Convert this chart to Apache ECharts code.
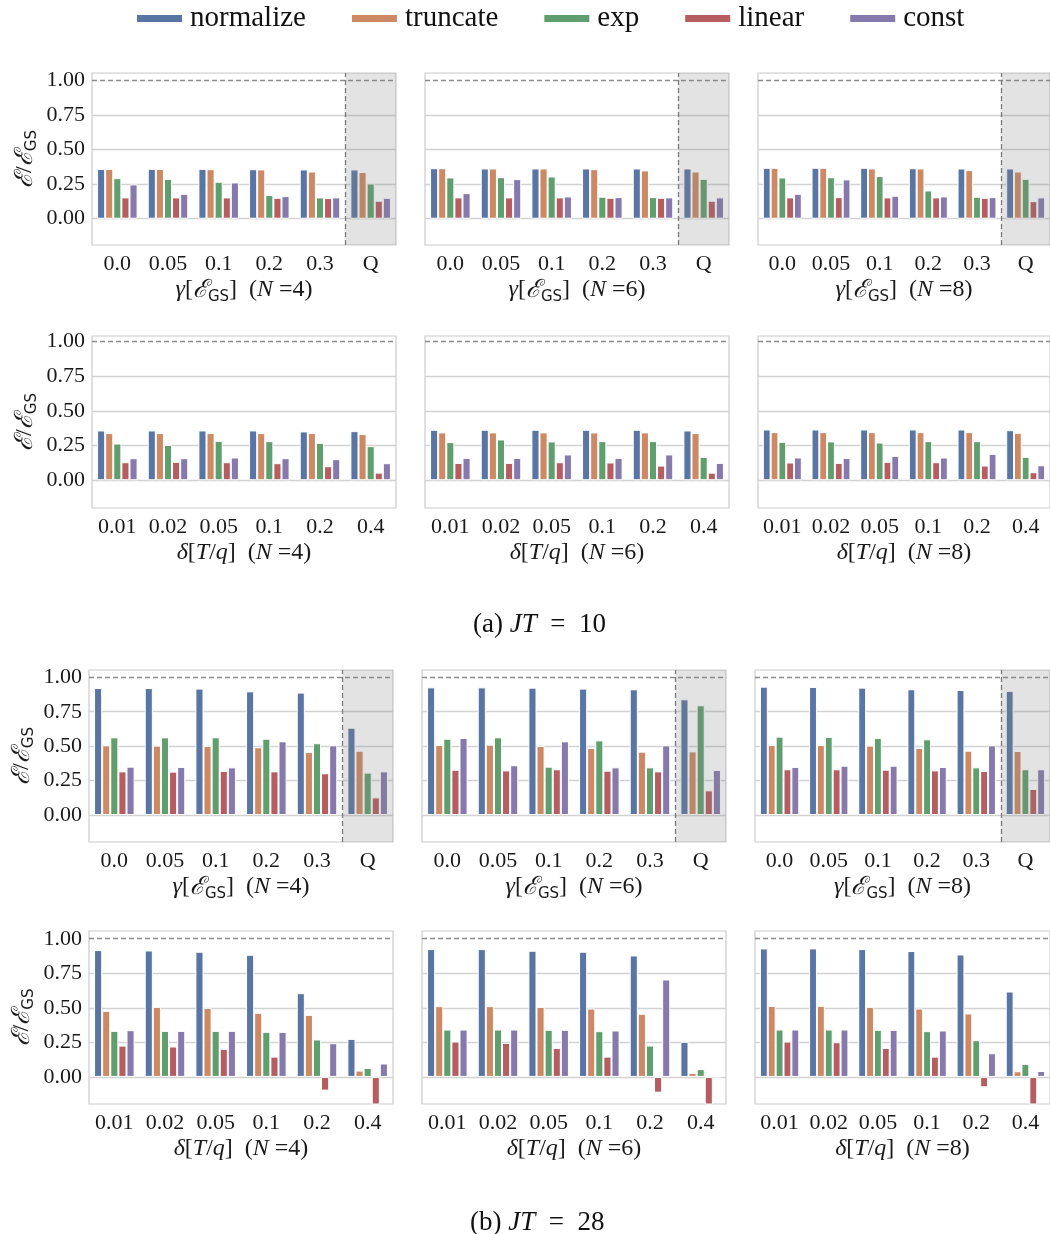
<!DOCTYPE html>
<html>
<head>
<meta charset="utf-8">
<script src="https://cdn.jsdelivr.net/npm/echarts@6/dist/echarts.min.js"></script>
<style>
html, body { margin: 0; padding: 0; background: #fff; }
#main { width: 1050px; height: 1234px; }
</style>
</head>
<body>
<div id="main"></div>
<script>
var methods = ['normalize', 'truncate', 'exp', 'linear', 'const'];
var gammaLabels = ['0.0', '0.05', '0.1', '0.2', '0.3', 'Q'];
var deltaLabels = ['0.01', '0.02', '0.05', '0.1', '0.2', '0.4'];
var yTicks = [0, 0.25, 0.5, 0.75, 1];

// rows: normalize, truncate, exp, linear, const
var jt10_gamma_N4 = [
	[0.36, 0.36, 0.36, 0.358, 0.356, 0.356],
	[0.36, 0.36, 0.358, 0.356, 0.341, 0.337],
	[0.293, 0.288, 0.267, 0.171, 0.154, 0.255],
	[0.154, 0.154, 0.154, 0.151, 0.149, 0.13],
	[0.248, 0.18, 0.262, 0.163, 0.154, 0.151]
];
var jt10_gamma_N6 = [
	[0.365, 0.363, 0.363, 0.363, 0.363, 0.363],
	[0.365, 0.363, 0.363, 0.358, 0.349, 0.341],
	[0.298, 0.30, 0.305, 0.159, 0.156, 0.288],
	[0.154, 0.154, 0.154, 0.151, 0.151, 0.13],
	[0.185, 0.286, 0.161, 0.156, 0.154, 0.154]
];
var jt10_gamma_N8 = [
	[0.368, 0.368, 0.368, 0.365, 0.363, 0.363],
	[0.368, 0.368, 0.363, 0.363, 0.351, 0.341],
	[0.298, 0.30, 0.308, 0.204, 0.159, 0.288],
	[0.154, 0.156, 0.154, 0.154, 0.151, 0.127],
	[0.18, 0.284, 0.166, 0.161, 0.156, 0.154]
];
var jt10_delta_N4 = [
	[0.359, 0.359, 0.359, 0.359, 0.352, 0.354],
	[0.34, 0.34, 0.34, 0.34, 0.34, 0.333],
	[0.265, 0.255, 0.284, 0.282, 0.27, 0.246],
	[0.13, 0.133, 0.13, 0.123, 0.101, 0.055],
	[0.159, 0.159, 0.164, 0.159, 0.152, 0.123]
];
var jt10_delta_N6 = [
	[0.364, 0.364, 0.364, 0.364, 0.364, 0.359],
	[0.345, 0.345, 0.345, 0.345, 0.345, 0.34],
	[0.275, 0.294, 0.28, 0.282, 0.282, 0.169],
	[0.125, 0.125, 0.13, 0.128, 0.106, 0.055],
	[0.161, 0.161, 0.186, 0.161, 0.186, 0.125]
];
var jt10_delta_N8 = [
	[0.366, 0.366, 0.366, 0.366, 0.366, 0.361],
	[0.347, 0.347, 0.347, 0.347, 0.347, 0.342],
	[0.277, 0.28, 0.272, 0.282, 0.282, 0.169],
	[0.128, 0.125, 0.133, 0.13, 0.106, 0.058],
	[0.164, 0.161, 0.176, 0.164, 0.19, 0.108]
];
var jt28_gamma_N4 = [
	[0.922, 0.922, 0.918, 0.898, 0.889, 0.634],
	[0.506, 0.504, 0.501, 0.492, 0.458, 0.467],
	[0.564, 0.564, 0.564, 0.554, 0.521, 0.308],
	[0.317, 0.315, 0.32, 0.317, 0.303, 0.128],
	[0.351, 0.349, 0.346, 0.535, 0.506, 0.317]
];
var jt28_gamma_N6 = [
	[0.927, 0.927, 0.925, 0.918, 0.913, 0.84],
	[0.508, 0.511, 0.501, 0.487, 0.46, 0.462],
	[0.554, 0.564, 0.351, 0.542, 0.346, 0.797],
	[0.329, 0.324, 0.332, 0.322, 0.317, 0.179],
	[0.559, 0.361, 0.535, 0.346, 0.506, 0.327]
];
var jt28_gamma_N8 = [
	[0.932, 0.93, 0.925, 0.913, 0.908, 0.901],
	[0.508, 0.508, 0.504, 0.487, 0.467, 0.465],
	[0.569, 0.567, 0.559, 0.55, 0.346, 0.332],
	[0.332, 0.332, 0.329, 0.324, 0.32, 0.189],
	[0.349, 0.358, 0.358, 0.349, 0.506, 0.332]
];
var jt28_delta_N4 = [
	[0.918, 0.915, 0.906, 0.884, 0.606, 0.275],
	[0.478, 0.507, 0.5, 0.464, 0.449, 0.046],
	[0.333, 0.333, 0.333, 0.326, 0.271, 0.065],
	[0.227, 0.22, 0.203, 0.147, -0.099, -0.3],
	[0.338, 0.333, 0.333, 0.326, 0.244, 0.097]
];
var jt28_delta_N6 = [
	[0.925, 0.925, 0.913, 0.906, 0.879, 0.254],
	[0.512, 0.512, 0.507, 0.495, 0.457, 0.029],
	[0.343, 0.343, 0.341, 0.331, 0.227, 0.056],
	[0.256, 0.246, 0.21, 0.147, -0.114, -0.3],
	[0.343, 0.343, 0.341, 0.336, 0.705, 0.002]
];
var jt28_delta_N8 = [
	[0.93, 0.93, 0.925, 0.911, 0.886, 0.618],
	[0.514, 0.514, 0.507, 0.495, 0.459, 0.041],
	[0.343, 0.343, 0.341, 0.331, 0.266, 0.094],
	[0.256, 0.251, 0.21, 0.147, -0.075, -0.3],
	[0.343, 0.343, 0.341, 0.336, 0.171, 0.043]
];

var barColors = ['#5975a4', '#cc8963', '#5f9e6e', '#b55d60', '#857aab'];
var serif = 'Liberation Serif, DejaVu Serif, serif';

var panels = [
	{ data: jt10_gamma_N4, kind: 'gamma', N: 4 },
	{ data: jt10_gamma_N6, kind: 'gamma', N: 6 },
	{ data: jt10_gamma_N8, kind: 'gamma', N: 8 },
	{ data: jt10_delta_N4, kind: 'delta', N: 4 },
	{ data: jt10_delta_N6, kind: 'delta', N: 6 },
	{ data: jt10_delta_N8, kind: 'delta', N: 8 },
	{ data: jt28_gamma_N4, kind: 'gamma', N: 4 },
	{ data: jt28_gamma_N6, kind: 'gamma', N: 6 },
	{ data: jt28_gamma_N8, kind: 'gamma', N: 8 },
	{ data: jt28_delta_N4, kind: 'delta', N: 4 },
	{ data: jt28_delta_N6, kind: 'delta', N: 6 },
	{ data: jt28_delta_N8, kind: 'delta', N: 8 }
];

// layout of each row of panels
var rows = [
	{ top: 73, height: 172, min: -0.19, max: 1.053, lefts: [92, 425, 758] },
	{ top: 336, height: 172, min: -0.2, max: 1.04, lefts: [92, 425, 758] },
	{ top: 670, height: 172, min: -0.196, max: 1.053, lefts: [89, 422, 755] },
	{ top: 931, height: 173, min: -0.196, max: 1.056, lefts: [89, 422, 755] }
];

var richName = {
	t: { fontFamily: serif, fontSize: 24, color: '#1a1a1a', lineHeight: 30 },
	i: { fontFamily: serif, fontSize: 24, fontStyle: 'italic', color: '#1a1a1a', lineHeight: 30 },
	e: { fontFamily: 'DejaVu Serif, serif', fontSize: 25, fontStyle: 'italic', color: '#1a1a1a', lineHeight: 30 },
	sub: { fontFamily: 'DejaVu Sans, sans-serif', fontSize: 15, color: '#1a1a1a', verticalAlign: 'bottom', lineHeight: 16 }
};

var richCaption = {
	t: { fontFamily: serif, fontSize: 27, fontWeight: 'normal', color: '#111' },
	i: { fontFamily: serif, fontSize: 27, fontWeight: 'normal', fontStyle: 'italic', color: '#111' }
};

function xName(p) {
	if (p.kind === 'gamma')
		return '{i|γ}{t|[}{e|ℰ}{sub|GS}{t|]  (}{i|N}{t| =' + p.N + ')}';
	return '{i|δ}{t|[}{i|T}{t|/}{i|q}{t|]  (}{i|N}{t| =' + p.N + ')}';
}

var option = {
	animation: false,
	backgroundColor: '#ffffff',
	color: barColors,
	legend: {
		left: 132,
		top: -1,
		icon: 'rect',
		itemWidth: 45,
		itemHeight: 7,
		itemGap: 46,
		itemStyle: { borderWidth: 0 },
		textStyle: { fontFamily: serif, fontSize: 29, color: '#111', padding: [0, 0, 0, 3] },
		data: methods
	},
	title: [{
		text: '{t|(a) }{i|JT}{t|  =  10}',
		left: 468,
		top: 606,
		textStyle: { fontWeight: 'normal', rich: richCaption }
	}, {
		text: '{t|(b) }{i|JT}{t|  =  28}',
		left: 465,
		top: 1204,
		textStyle: { fontWeight: 'normal', rich: richCaption }
	}],
	grid: [],
	xAxis: [],
	yAxis: [],
	series: []
};

panels.forEach(function (p, i) {
	var row = rows[Math.floor(i / 3)];
	var col = i % 3;
	option.grid.push({
		left: row.lefts[col], top: row.top, width: 304, height: row.height,
		show: true, borderColor: '#cccccc', borderWidth: 1.2, backgroundColor: 'transparent'
	});
	var catIdx = option.xAxis.length;
	option.xAxis.push({
		type: 'category',
		gridIndex: i,
		data: p.kind === 'gamma' ? gammaLabels : deltaLabels,
		axisLine: { show: false },
		axisTick: { show: false },
		splitLine: { show: false },
		axisLabel: { fontFamily: serif, fontSize: 22, color: '#1a1a1a', margin: 8, interval: 0 },
		name: xName(p),
		nameLocation: 'middle',
		nameGap: 30,
		nameTextStyle: { rich: richName }
	});
	option.yAxis.push({
		type: 'value',
		gridIndex: i,
		min: row.min,
		max: row.max,
		axisLine: { show: false },
		axisTick: { show: false, customValues: yTicks },
		splitLine: { show: false },
		axisLabel: {
			show: col === 0,
			customValues: yTicks,
			formatter: function (v) { return v.toFixed(2); },
			fontFamily: serif, fontSize: 22, color: '#1a1a1a', margin: 7
		},
		name: col === 0 ? '{e|ℰ}{t|/}{e|ℰ}{sub|GS}' : '',
		nameLocation: 'middle',
		nameGap: 52,
		nameTextStyle: { rich: richName }
	});

	// horizontal grid lines behind the bars
	option.series.push({
		type: 'line',
		xAxisIndex: catIdx,
		yAxisIndex: i,
		data: [],
		silent: true,
		markLine: {
			z: 1,
			silent: true,
			symbol: 'none',
			label: { show: false },
			data: yTicks.map(function (v) {
				return {
					yAxis: v,
					lineStyle: v === 1
						? { color: '#8c8c8c', width: 1.3, type: [5, 3] }
						: { color: '#d2d2d2', width: 1.3, type: 'solid' }
				};
			})
		}
	});

	methods.forEach(function (m, k) {
		option.series.push({
			type: 'bar',
			name: m,
			xAxisIndex: catIdx,
			yAxisIndex: i,
			data: p.data[k],
			barGap: '0%',
			barCategoryGap: '20%',
			z: 2,
			itemStyle: { color: barColors[k], borderColor: '#ffffff', borderWidth: 1 }
		});
	});

	if (p.kind === 'gamma') {
		// shaded Q column with dashed divider
		var valIdx = option.xAxis.length;
		option.xAxis.push({ type: 'value', gridIndex: i, min: 0, max: 6, show: false });
		option.series.push({
			type: 'line',
			xAxisIndex: valIdx,
			yAxisIndex: i,
			data: [],
			silent: true,
			markArea: {
				z: 3,
				silent: true,
				itemStyle: { color: 'rgba(128,128,128,0.22)' },
				data: [[{ xAxis: 5 }, { xAxis: 6 }]]
			},
			markLine: {
				z: 4,
				silent: true,
				symbol: 'none',
				label: { show: false },
				lineStyle: { color: '#7a7a7a', width: 1.3, type: [5, 3] },
				data: [{ xAxis: 5 }]
			}
		});
	}
});

var myChart = echarts.init(document.getElementById('main'));
myChart.setOption(option);
</script>
</body>
</html>
